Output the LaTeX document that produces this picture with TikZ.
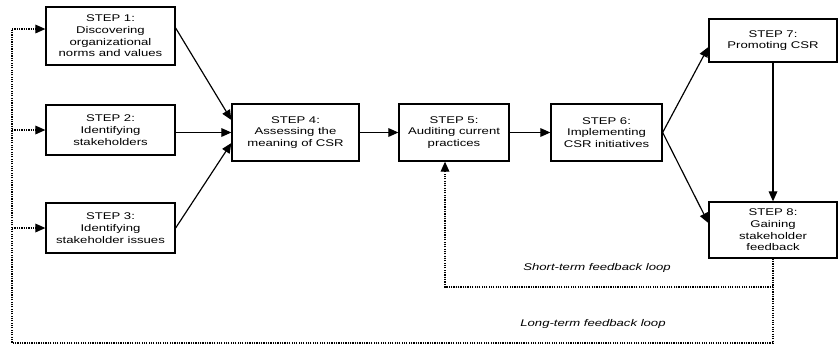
\documentclass[tikz,border=0pt]{standalone}
\usepackage{fontspec}
\setmainfont{Liberation Sans}[FakeStretch = 1.35]
\usetikzlibrary{arrows.meta, positioning}
\tikzset{node distance = 3cm, on grid,
         >= {Triangle[length = 3mm, width = 2.6mm]},
         stepbox/.style = {draw, line width = 1.1pt, align = center,
                           inner sep = 1pt,
                           font = \fontsize{8.3}{10}\selectfont},
         flow/.style = {->, line width = 1pt},
         fb/.style = {->, line width = 1pt, densely dotted},
         looplabel/.style = {font = \fontsize{8.3}{10}\selectfont\itshape}}

\begin{document}
\begin{tikzpicture}
        \useasboundingbox (0,0) rectangle (25.14,-10.41);

        \node[stepbox, minimum width = 3.87cm, minimum height = 1.74cm] (s1) at (3.315,-1.08) {STEP 1:\\ Discovering\\ organizational\\ norms and values};
        \node[stepbox, minimum width = 3.87cm, minimum height = 1.5cm]  (s2) [below = 2.82cm of s1] {STEP 2:\\ Identifying\\ stakeholders};
        \node[stepbox, minimum width = 3.87cm, minimum height = 1.5cm]  (s3) [below = 2.94cm of s2] {STEP 3:\\ Identifying\\ stakeholder issues};
        \node[stepbox, minimum width = 3.81cm, minimum height = 1.71cm] (s4) at (8.865,-3.975) {STEP 4:\\ Assessing the\\ meaning of CSR};
        \node[stepbox, minimum width = 3.3cm, minimum height = 1.71cm]  (s5) [right = 4.755cm of s4] {STEP 5:\\ Auditing current\\ practices};
        \node[stepbox, minimum width = 3.33cm, minimum height = 1.71cm] (s6) [right = 4.575cm of s5] {STEP 6:\\ Implementing\\ CSR initiatives};
        \node[stepbox, minimum width = 3.84cm, minimum height = 1.29cm] (s7) at (23.19,-1.215) {STEP 7:\\ Promoting CSR};
        \node[stepbox, minimum width = 3.84cm, minimum height = 1.68cm] (s8) [below = 5.685cm of s7] {STEP 8:\\ Gaining\\ stakeholder\\ feedback};

        % main steps
        \draw[flow] ([yshift = 0.24cm]s1.east) -- ([yshift = 0.375cm]s4.west);
        \draw[flow] (s2.east |- s4.west) -- (s4.west);
        \draw[flow] (s3.east) -- ([yshift = -0.315cm]s4.west);
        \draw[flow] (s4) -- (s5);
        \draw[flow] (s5) -- (s6);
        \draw[flow] (s6.east) -- ([yshift = -0.195cm]s7.west);
        \draw[flow] (s6.east) -- ([yshift = 0.21cm]s8.west);
        \draw[flow] (s7) -- (s8);

        % feedback loops
        \coordinate (sl) at (13.35,-8.61);
        \coordinate (ll) at (0.36,-10.29);
        \coordinate (lt) at (0.36,-0.87);
        \draw[fb] (s8.south) |- (sl) -- (sl |- s5.south);
        \draw[fb, -] (s8.south) |- (ll) -- (lt);
        \draw[fb] (lt) -- (lt -| s1.west);
        \draw[fb] (s2.west -| lt) -- (s2.west);
        \draw[fb] (s3.west -| lt) -- (s3.west);

        \node[looplabel] (st) at (17.91,-8.04) {Short-term feedback loop};
        \node[looplabel] (lg) at (17.79,-9.72) {Long-term feedback loop};
    \end{tikzpicture}
\end{document}
